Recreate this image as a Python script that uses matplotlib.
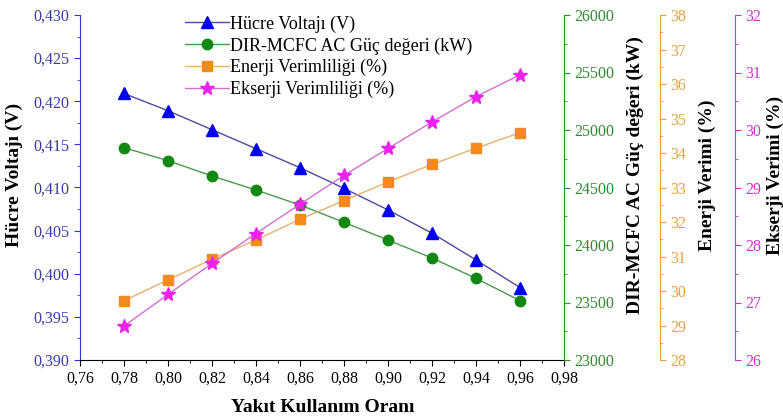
import matplotlib
matplotlib.use("Agg")
import matplotlib.pyplot as plt
from matplotlib.ticker import MultipleLocator, FuncFormatter

plt.rcParams['font.family'] = ['Liberation Serif', 'DejaVu Serif']

yakit = [0.78, 0.80, 0.82, 0.84, 0.86, 0.88, 0.90, 0.92, 0.94, 0.96]
voltaj = [0.4209, 0.4189, 0.4167, 0.4145, 0.4123, 0.4099, 0.4074, 0.4047, 0.4016, 0.3984]
guc = [24846, 24733, 24600, 24478, 24348, 24197, 24043, 23887, 23710, 23516]
enerji = [29.72, 30.32, 30.92, 31.48, 32.08, 32.62, 33.16, 33.67, 34.14, 34.59]
ekserji = [26.59, 27.14, 27.68, 28.20, 28.71, 29.21, 29.68, 30.14, 30.58, 30.96]

labels = ["Hücre Voltajı (V)", "DIR-MCFC AC Güç değeri (kW)",
          "Enerji Verimliliği (%)", "Ekserji Verimliliği (%)"]

c_blue_axis = '#3a3aa8'
c_green_axis = '#2e8b2e'
c_orange_axis = '#e8a040'
c_mag_axis = '#cc33cc'

fig = plt.figure(figsize=(7.83, 4.20), dpi=100)
ax = fig.add_axes([80/783, 1-360/420, 484/783, 345/420])

def comma_fmt(dec):
    return FuncFormatter(lambda v, p: f"{v:.{dec}f}".replace('.', ','))

FS = 11.5
LFS = 14
LY = 0.535

# host: voltage
l1, = ax.plot(yakit, voltaj, color='#4a4aa0', lw=1.0, marker='^', ms=9,
              mfc='#0000ee', mec='#0000ee')
ax.set_xlim(0.76, 0.98)
ax.set_ylim(0.390, 0.430)
ax.xaxis.set_major_locator(MultipleLocator(0.02))
ax.xaxis.set_minor_locator(MultipleLocator(0.01))
ax.yaxis.set_major_locator(MultipleLocator(0.005))
ax.yaxis.set_minor_locator(MultipleLocator(0.0025))
ax.xaxis.set_major_formatter(comma_fmt(2))
ax.yaxis.set_major_formatter(comma_fmt(3))
ax.spines['top'].set_visible(False)
ax.spines['right'].set_visible(False)
ax.spines['left'].set_color('#3333cc')
ax.tick_params(axis='y', which='both', colors='#3333cc', labelcolor=c_blue_axis, labelsize=FS, direction='out')
ax.tick_params(axis='x', which='both', labelsize=FS, direction='out')
ax.tick_params(which='major', length=4)
ax.tick_params(which='minor', length=2.5)
ax.set_xlabel("Yakıt Kullanım Oranı", fontsize=LFS, fontweight='bold')
ax.xaxis.set_label_coords(0.502, -0.113)
ax.set_ylabel("Hücre Voltajı (V)", fontsize=LFS, fontweight='bold')
ax.yaxis.set_label_coords(-0.118, LY)

def setup_twin(tw, pos, color, lab_color):
    for s in ['left', 'top', 'bottom']:
        tw.spines[s].set_visible(False)
    tw.spines['right'].set_position(('axes', pos))
    tw.spines['right'].set_color(color)
    tw.tick_params(axis='y', which='both', colors=color, labelcolor=lab_color, labelsize=FS, direction='out')
    tw.tick_params(which='major', length=4)
    tw.tick_params(which='minor', length=2.5)

# power
ax2 = ax.twinx()
l2, = ax2.plot(yakit, guc, color='#4c9a4c', lw=1.0, marker='o', ms=7.5,
               mfc='#118811', mec='#118811')
ax2.set_ylim(23000, 26000)
ax2.yaxis.set_major_locator(MultipleLocator(500))
ax2.yaxis.set_minor_locator(MultipleLocator(250))
setup_twin(ax2, 1.0, c_green_axis, c_green_axis)
ax2.set_ylabel("DIR-MCFC AC Güç değeri (kW)", fontsize=LFS, fontweight='bold')
ax2.yaxis.set_label_coords(1.130, LY)

# energy
ax3 = ax.twinx()
l3, = ax3.plot(yakit, enerji, color='#e8b070', lw=1.0, marker='s', ms=6.5,
               mfc='#f28a1e', mec='#f28a1e')
ax3.set_ylim(28, 38)
ax3.yaxis.set_major_locator(MultipleLocator(1))
ax3.yaxis.set_minor_locator(MultipleLocator(0.5))
setup_twin(ax3, 1.198, c_orange_axis, c_orange_axis)
ax3.set_ylabel("Enerji Verimi (%)", fontsize=LFS, fontweight='bold')
ax3.yaxis.set_label_coords(1.279, LY)

# exergy
ax4 = ax.twinx()
l4, = ax4.plot(yakit, ekserji, color='#d070d0', lw=1.0, marker='*', ms=10,
               mfc='#ee22ee', mec='#ee22ee')
ax4.set_ylim(26, 32)
ax4.yaxis.set_major_locator(MultipleLocator(1))
ax4.yaxis.set_minor_locator(MultipleLocator(0.5))
setup_twin(ax4, 1.353, c_mag_axis, c_mag_axis)
ax4.set_ylabel("Ekserji Verimi (%)", fontsize=LFS, fontweight='bold')
ax4.yaxis.set_label_coords(1.419, LY)

leg = ax4.legend([l1, l2, l3, l4], labels, loc='upper left',
                 bbox_to_anchor=(0.195, 1.03), frameon=False, fontsize=13,
                 handlelength=2.4, handletextpad=0.1, labelspacing=0.25,
                 borderaxespad=0.2)

fig.savefig("out.png", dpi=100)
